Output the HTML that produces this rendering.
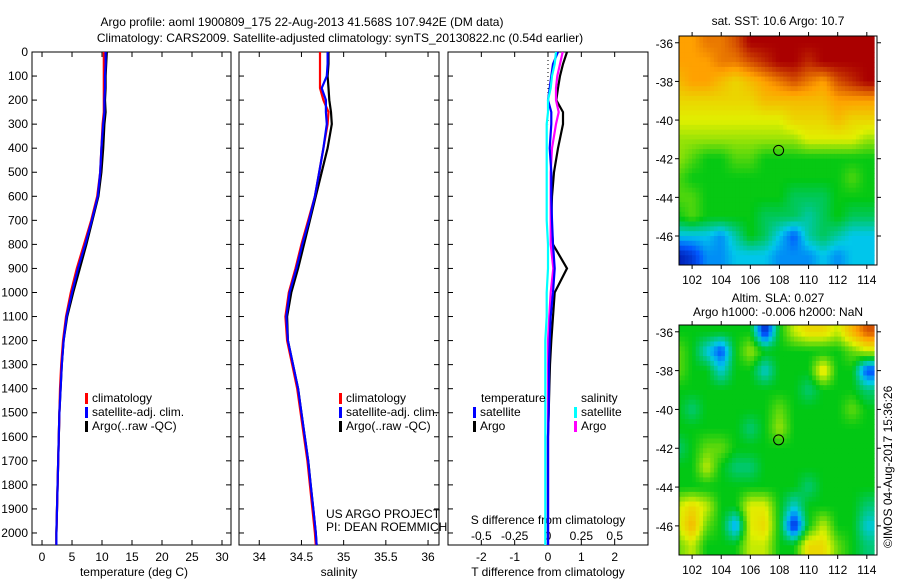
<!DOCTYPE html>
<html><head><meta charset="utf-8"><style>
body{margin:0;background:#fff;}
svg{display:block;font-family:"Liberation Sans",sans-serif;}
text{font-size:12px;fill:#000;}
</style></head><body>
<svg id="fig" width="900" height="580" viewBox="0 0 900 580">
<text x="302" y="26" text-anchor="middle" font-size="13">Argo profile: aoml 1900809_175 22-Aug-2013 41.568S 107.942E (DM data)</text>
<text x="340" y="42" text-anchor="middle" font-size="13">Climatology: CARS2009. Satellite-adjusted climatology: synTS_20130822.nc (0.54d earlier)</text>
<text x="778" y="25" text-anchor="middle">sat. SST: 10.6  Argo: 10.7</text>
<text x="778" y="302" text-anchor="middle">Altim. SLA: 0.027</text>
<text x="778" y="316" text-anchor="middle">Argo h1000: -0.006 h2000: NaN</text>
<text transform="translate(892,548) rotate(-90)">©IMOS 04-Aug-2017 15:36:26</text>
<text x="134" y="576" text-anchor="middle">temperature (deg C)</text>
<text x="339" y="576" text-anchor="middle">salinity</text>
<text x="548" y="576" text-anchor="middle">T difference from climatology</text>
<text x="548" y="524" text-anchor="middle">S difference from climatology</text>
<text x="326" y="518">US ARGO PROJECT</text>
<text x="326" y="531">PI: DEAN ROEMMICH</text>
</svg>
<script>
const depths=[0,50,100,150,200,250,300,400,500,600,700,800,900,1000,1100,1200,1300,1400,1500,1600,1700,1800,1900,2000,2050];
const tempClim=[10.3,10.3,10.3,10.3,10.3,10.3,10.1,9.9,9.7,9.2,8.2,7.0,5.8,4.8,4.0,3.5,3.2,3.0,2.9,2.8,2.7,2.6,2.5,2.4,2.4];
const tempSat=[10.6,10.6,10.5,10.5,10.4,10.4,10.2,9.9,9.7,9.3,8.3,7.2,6.0,5.0,4.1,3.6,3.3,3.1,2.9,2.8,2.7,2.6,2.5,2.4,2.4];
const tempArgo=[10.8,10.7,10.6,10.6,10.5,10.6,10.4,10.2,9.9,9.4,8.4,7.4,6.3,5.2,4.2,3.6,3.3,3.1,2.9,2.8,2.7,2.6,2.5,2.4,2.4];
const salClim=[34.72,34.72,34.72,34.72,34.76,34.82,34.81,34.76,34.71,34.66,34.58,34.50,34.43,34.35,34.31,34.33,34.39,34.45,34.49,34.53,34.57,34.60,34.63,34.66,34.67];
const salSat=[34.81,34.81,34.80,34.74,34.79,34.79,34.80,34.76,34.71,34.66,34.59,34.51,34.44,34.36,34.32,34.34,34.40,34.46,34.50,34.54,34.58,34.61,34.64,34.67,34.68];
const salArgo=[34.82,34.82,34.81,34.82,34.83,34.85,34.86,34.81,34.74,34.67,34.60,34.53,34.46,34.38,34.33,34.34,34.40,34.46,34.50,34.54,34.58,34.61,34.64,34.67,34.68];
const tDiffSat=[0.3,0.15,0.1,0.05,0.0,0.1,0.1,0.05,0.1,0.1,0.12,0.15,0.2,0.15,0.08,0.05,0.03,0.03,0.02,0.0,0.0,0.0,0.0,0.0,0.0];
const tDiffArgo=[0.57,0.45,0.36,0.3,0.25,0.45,0.45,0.3,0.18,0.12,0.1,0.15,0.57,0.2,0.15,0.1,0.06,0.04,0.02,0.0,0.0,0.0,0.0,0.0,0.0];
const sDiffSat=[0.06,0.05,0.03,0.02,0.0,0.0,-0.01,-0.01,-0.01,-0.01,-0.01,0.0,0.0,-0.01,-0.01,-0.02,-0.02,-0.02,-0.02,-0.02,-0.02,-0.02,-0.02,-0.02,-0.02];
const sDiffArgo=[0.11,0.09,0.07,0.06,0.06,0.08,0.06,0.03,0.02,0.02,0.02,0.02,0.04,0.02,0.01,0.0,0.0,0.0,0.0,0.0,0.0,0.0,0.0,0.0,0.0];
const depthTicks=[0,100,200,300,400,500,600,700,800,900,1000,1100,1200,1300,1400,1500,1600,1700,1800,1900,2000];
const tempTicks=[0,5,10,15,20,25,30];
const salTicks=[34,34.5,35,35.5,36];
const tDiffTicks=[-2,-1,0,1,2];
const sDiffTicks=[-0.5,-0.25,0,0.25,0.5];
const sDiffTickLabels=["-0.5","-0.25","0","0.25","0.5"];
const lonTicks=[102,104,106,108,110,112,114];
const latTicks=[-36,-38,-40,-42,-44,-46];
const sstLats=[-36,-37,-38,-39,-40,-41,-42,-43,-44,-45,-46,-47];
const sstLons=[101,102,103,104,105,106,107,108,109,110,111,112,113,114];
const sstGrid=[
[13,13,13.5,13.5,14,15,15,15,15,15,15,15,15,15],
[13,13,13,13.5,13.5,14,14.5,15,15,14.5,15,15,15,15],
[12.5,13,13,12.5,12,12.5,13,13.5,14,13.5,13,14,14.5,15],
[12,12,12,12,12,12,12.5,12.5,12.5,12.5,12.5,13,13,13],
[11.5,11.5,11.5,11.5,11.5,11.5,11.5,11.5,12,12,12,12.5,12,12],
[11,11,11,11,11,11,11,11,11,11.5,11.5,11.5,11.5,11],
[11,10.5,10,10,10.5,10.5,10,10,10,10,10,10,10,10],
[10.5,10,10,10,10,10,10,10,10,10,10,10,10.5,10],
[10.5,10.5,10,10,10,10,10,10,9.5,9.5,9.5,10,10,10],
[10,10.5,10,10,10,10,9.5,9.5,9.5,9,9.5,10,9.5,9.5],
[8.5,8.5,8.5,8,9,10,9.5,8.5,7.5,9,9.5,9,8.5,8.5],
[6.5,7,8,8,8.5,8.5,8.5,8,8,8,8.5,8,8.5,8.5]];
const slaGrid=[
[0,0,0,0,0,0,-0.25,0,0.1,0.15,0.15,0.1,0.2,0.3],
[0.05,0,-0.1,-0.2,0,0.08,0,0,0,0,0,0,0.05,0.1],
[0.05,0,0,-0.1,0,0,-0.1,0,0,0,0.15,0,0,-0.2],
[0,0,0,0,0,0,0,0,0,-0.05,0,0,0,-0.05],
[0,-0.05,0,0,0,0,0,0.05,0,0,0,0,0.05,0],
[0,0,0,0,0,-0.05,0,0.08,0,0,0,0,0,0],
[-0.05,0,0.05,0.05,0,0,0,0,0,0,0,0,0,0],
[0,0,0.1,0,-0.05,-0.05,0,0,0,0,0,0,0,0],
[0,0,0,0,0,0,0,0,0,-0.05,0,0,0,0],
[0.1,0.15,0.1,0,0,0.12,0.12,0,-0.1,0,0,0,0,-0.05],
[0.1,0.2,0.05,0,-0.15,0.12,0.15,0,-0.25,0,0.1,0,0,-0.1],
[0.05,0.1,0,0,0,0.1,0.1,0,0,0.15,0.15,0.05,0,-0.05]];
const argoLon=107.942, argoLat=-41.568;

const NS="http://www.w3.org/2000/svg";
const svg=document.getElementById('fig');
function mk(tag,attrs,parent){const e=document.createElementNS(NS,tag);for(const k in attrs)e.setAttribute(k,attrs[k]);(parent||svg).appendChild(e);return e;}
const yTop=52,yBot=545;
const yD=d=>yTop+(d/2050)*(yBot-yTop);
function lin(d0,d1,r0,r1){return v=>r0+(v-d0)/(d1-d0)*(r1-r0);}
const panels=[
 {x0:32,x1:231,xs:lin(-1.67,31.5,32,231),name:'temperature-panel'},
 {x0:239,x1:439,xs:lin(33.76,36.13,239,439),name:'salinity-panel'},
 {x0:448,x1:648,xs:lin(-3,3,448,648),name:'difference-panel'}];
const sxS=lin(-0.75,0.75,448,648);
function drawLine(arr,xs,color,name){
  let p='';arr.forEach((v,i)=>{p+=(i?'L':'M')+xs(v).toFixed(1)+','+yD(depths[i]).toFixed(1);});
  const e=mk('path',{d:p,fill:'none',stroke:color,'stroke-width':2.2});
  
  
}
function tickLabel(x,y,t,anchor,name){const e=mk('text',{x:x,y:y,'text-anchor':anchor});e.textContent=t;
  
  }
depthTicks.forEach(d=>tickLabel(28,yD(d)+4,String(d),'end','depth-tick-label'));
panels.forEach((P,pi)=>{
  const r=mk('rect',{x:P.x0,y:yTop,width:P.x1-P.x0,height:yBot-yTop,fill:'none',stroke:'#000','stroke-width':1});
  
  
  depthTicks.forEach(d=>{mk('line',{x1:P.x0,x2:P.x0+5,y1:yD(d),y2:yD(d),stroke:'#000'});mk('line',{x1:P.x1-5,x2:P.x1,y1:yD(d),y2:yD(d),stroke:'#000'});});
});
tempTicks.forEach(t=>{const x=panels[0].xs(t);mk('line',{x1:x,x2:x,y1:yTop,y2:yTop+5,stroke:'#000'});mk('line',{x1:x,x2:x,y1:yBot-5,y2:yBot,stroke:'#000'});tickLabel(x,561,String(t),'middle','temp-tick-label');});
salTicks.forEach(t=>{const x=panels[1].xs(t);mk('line',{x1:x,x2:x,y1:yTop,y2:yTop+5,stroke:'#000'});mk('line',{x1:x,x2:x,y1:yBot-5,y2:yBot,stroke:'#000'});tickLabel(x,561,String(t),'middle','sal-tick-label');});
tDiffTicks.forEach(t=>{const x=panels[2].xs(t);mk('line',{x1:x,x2:x,y1:yTop,y2:yTop+5,stroke:'#000'});mk('line',{x1:x,x2:x,y1:yBot-5,y2:yBot,stroke:'#000'});tickLabel(x,561,String(t),'middle','tdiff-tick-label');});
sDiffTicks.forEach((t,i)=>tickLabel(sxS(t),540,sDiffTickLabels[i],'middle','sdiff-tick-label'));
mk('line',{x1:panels[2].xs(0),x2:panels[2].xs(0),y1:yTop,y2:yD(300),stroke:'#000','stroke-dasharray':'1,3'});
drawLine(tempArgo,panels[0].xs,'#000','temp-argo-line');
drawLine(tempClim,panels[0].xs,'#f00','temp-clim-line');
drawLine(tempSat,panels[0].xs,'#00f','temp-sat-line');
drawLine(salArgo,panels[1].xs,'#000','sal-argo-line');
drawLine(salClim,panels[1].xs,'#f00','sal-clim-line');
drawLine(salSat,panels[1].xs,'#00f','sal-sat-line');
drawLine(tDiffArgo,panels[2].xs,'#000','tdiff-argo-line');
drawLine(sDiffArgo,sxS,'#f0f','sdiff-argo-line');
drawLine(tDiffSat,panels[2].xs,'#00f','tdiff-sat-line');
drawLine(sDiffSat,sxS,'#0ff','sdiff-sat-line');
function legend(x,y,color,label,name){mk('rect',{x:x,y:y-9,width:3,height:11,fill:color});const t=mk('text',{x:x+7,y:y});t.textContent=label;
  
  }
[[85,'#f00','climatology'],[85,'#00f','satellite-adj. clim.'],[85,'#000','Argo(..raw -QC)']].forEach((l,i)=>legend(l[0],402+i*14,l[1],l[2],'temp-legend-entry'));
[[339,'#f00','climatology'],[339,'#00f','satellite-adj. clim.'],[339,'#000','Argo(..raw -QC)']].forEach((l,i)=>legend(l[0],402+i*14,l[1],l[2],'sal-legend-entry'));
tickLabel(481,402,'temperature','start','diff-legend-temp-header');
tickLabel(581,402,'salinity','start','diff-legend-sal-header');
legend(473,416,'#00f','satellite','diff-legend-entry');
legend(473,430,'#000','Argo','diff-legend-entry');
legend(574,416,'#0ff','satellite','diff-legend-entry');
legend(574,430,'#f0f','Argo','diff-legend-entry');
// colormap
const cmStops=[[0,[0,0,140]],[0.17,[0,90,255]],[0.28,[0,200,235]],[0.44,[0,200,20]],[0.61,[225,240,0]],[0.78,[255,160,0]],[1,[170,0,0]]];
function cmap(t){t=Math.max(0,Math.min(1,t));
  for(let i=1;i<cmStops.length;i++){if(t<=cmStops[i][0]){const a=cmStops[i-1],b=cmStops[i],f=(t-a[0])/(b[0]-a[0]);
    return 'rgb('+[0,1,2].map(k=>Math.round(a[1][k]+f*(b[1][k]-a[1][k]))).join(',')+')';}}
  return 'rgb(170,0,0)';}
function sample(grid,fi,fj){const ni=grid.length,nj=grid[0].length;
  fi=Math.max(0,Math.min(ni-1,fi));fj=Math.max(0,Math.min(nj-1,fj));
  const i0=Math.floor(fi),j0=Math.floor(fj),i1=Math.min(ni-1,i0+1),j1=Math.min(nj-1,j0+1),a=fi-i0,b=fj-j0;
  return grid[i0][j0]*(1-a)*(1-b)+grid[i0][j1]*(1-a)*b+grid[i1][j0]*a*(1-b)+grid[i1][j1]*a*b;}
function drawMap(box,grid,vmin,vmax,name){
  const lx=lin(101.1,114.7,box.x0,box.x1), ly=lin(box.latTop,box.latBot,box.y0,box.y1);
  const g=mk('g',{});
  
  
  const cp=mk('clipPath',{id:name+'-clip'},g);mk('rect',{x:box.x0,y:box.y0,width:box.x1-box.x0,height:box.y1-box.y0},cp);
  const cg=mk('g',{'clip-path':`url(#${name}-clip)`},g);
  const sub=4,step=1/sub;
  for(let lat=sstLats[0]+0.5;lat>sstLats[sstLats.length-1]-0.5;lat-=step){
    for(let lon=sstLons[0]-0.5;lon<sstLons[sstLons.length-1]+0.5;lon+=step){
      const fi=(sstLats[0]-(lat-step/2)), fj=(lon+step/2-sstLons[0]);
      const v=sample(grid,fi,fj);
      const x=lx(lon),y=ly(lat);
      const c=mk('rect',{x:x.toFixed(1),y:y.toFixed(1),width:(lx(step)-lx(0)+0.6).toFixed(1),height:(ly(-step)-ly(0)+0.6).toFixed(1),fill:cmap((v-vmin)/(vmax-vmin))},cg);
      
      
    }
  }
  mk('rect',{x:box.x0,y:box.y0,width:box.x1-box.x0,height:box.y1-box.y0,fill:'none',stroke:'#000'},g);
  lonTicks.forEach(t=>{const x=lx(t);mk('line',{x1:x,x2:x,y1:box.y0,y2:box.y0-4,stroke:'#000'},g);mk('line',{x1:x,x2:x,y1:box.y1,y2:box.y1+4,stroke:'#000'},g);tickLabel(x,box.y1+19,String(t),'middle','lon-tick-label');});
  latTicks.forEach(t=>{const y=ly(t);mk('line',{x1:box.x0-4,x2:box.x0,y1:y,y2:y,stroke:'#000'},g);mk('line',{x1:box.x1,x2:box.x1+4,y1:y,y2:y,stroke:'#000'},g);tickLabel(box.x0-6,y+5,String(t),'end','lat-tick-label');});
  const m=mk('circle',{cx:lx(argoLon),cy:ly(argoLat),r:5,fill:'none',stroke:'#000'},g);
  
  
}
drawMap({x0:679,x1:877,y0:36,y1:265,latTop:-35.65,latBot:-47.5},sstGrid,6,15,'sst-map');
drawMap({x0:679,x1:877,y0:325,y1:555,latTop:-35.65,latBot:-47.5},slaGrid,-0.3,0.38,'sla-map');
</script>
</body></html>
